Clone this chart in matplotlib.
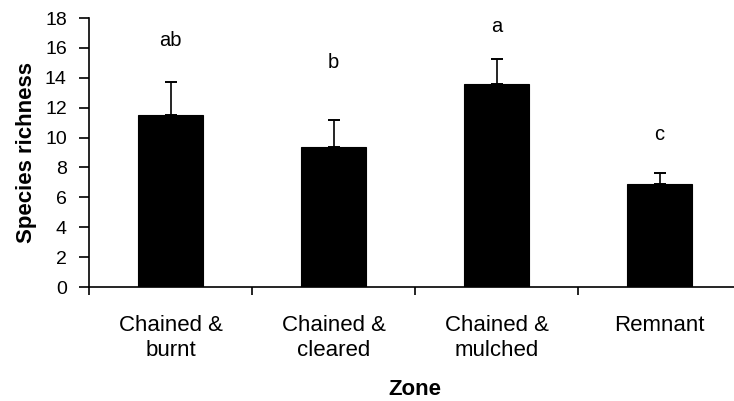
import matplotlib
matplotlib.use("Agg")
import matplotlib.pyplot as plt
import numpy as np

categories = ["Chained &\nburnt", "Chained &\ncleared", "Chained &\nmulched", "Remnant"]
means = [11.5, 9.4, 13.6, 6.9]
upper_err = [2.25, 1.75, 1.65, 0.7]
letters = ["ab", "b", "a", "c"]
letter_y = [16.5, 15.0, 17.4, 10.2]
yticks = list(range(0, 19, 2))

plt.rcParams['font.family'] = ['Liberation Sans', 'DejaVu Sans']

fig = plt.figure(figsize=(7.34, 4.01), dpi=100)
ax = fig.add_axes([89/734, 114/401, 652/734, 269/401])

x = np.arange(len(categories)) + 0.5
ax.bar(x, means, width=0.4, color="black", edgecolor="black", linewidth=0.8, zorder=2)
ax.errorbar(x, means, yerr=[np.zeros(len(means)), upper_err], fmt="none",
            ecolor="black", elinewidth=1.2, capsize=4.2, capthick=1.4, zorder=3)

for xi, lab, ly in zip(x, letters, letter_y):
    ax.text(xi, ly, lab, ha="center", va="center", fontsize=14.5)

ax.set_xlim(0, 4)
ax.set_ylim(0, 18)
ax.set_yticks(yticks)
ax.set_yticklabels([str(t) for t in yticks], fontsize=14)
ax.set_xticks([0, 1, 2, 3, 4])
ax.set_xticklabels([])
ax.set_xticks(x, minor=True)
ax.set_xticklabels(categories, minor=True, fontsize=16, linespacing=1.25)
ax.tick_params(axis="x", which="minor", length=0, pad=20)
ax.tick_params(axis="x", which="major", length=5.8, width=1.2, direction="out")
ax.tick_params(axis="y", length=7, width=1.2, direction="out", pad=9)

for s in ["top", "right"]:
    ax.spines[s].set_visible(False)
ax.spines["left"].set_linewidth(1.2)
ax.spines["bottom"].set_linewidth(1.2)
ax.spines["bottom"].set_clip_on(False)

ax.set_ylabel("Species richness", fontsize=16, fontweight="bold", labelpad=6)
ax.set_xlabel("Zone", fontsize=16, fontweight="bold", labelpad=13)

fig.savefig("out.png", dpi=100)
